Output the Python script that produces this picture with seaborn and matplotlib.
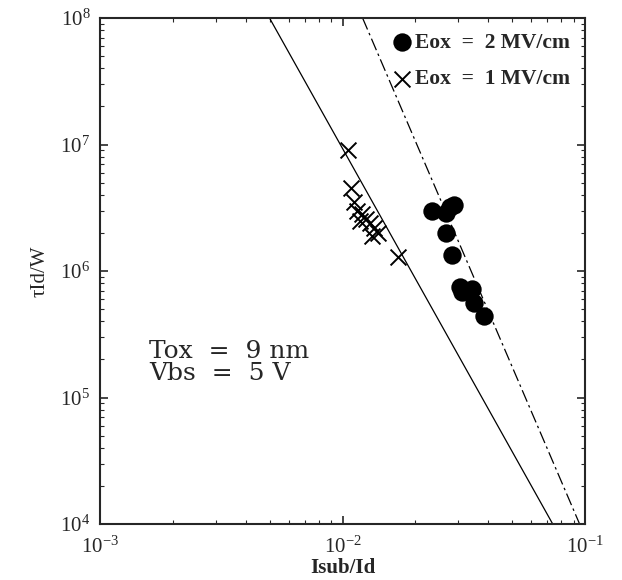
import numpy as np
import pandas as pd
import matplotlib
matplotlib.use("Agg")
import matplotlib.pyplot as plt
import seaborn as sns

# Data (log-log plot)
x_eox1 = [0.0105, 0.0108, 0.0112, 0.0115, 0.0120, 0.0125, 0.0118, 0.0130, 0.0135, 0.0140, 0.0132, 0.0170]
y_eox1 = [9.0e6, 4.5e6, 3.5e6, 3.0e6, 2.8e6, 2.6e6, 2.5e6, 2.4e6, 2.2e6, 2.0e6, 1.9e6, 1.3e6]

x_eox2 = [0.0235, 0.0268, 0.0278, 0.0288, 0.0268, 0.0282, 0.0306, 0.0342, 0.0312, 0.0348, 0.0385]
y_eox2 = [3.0e6, 2.9e6, 3.2e6, 3.3e6, 2.0e6, 1.35e6, 7.5e5, 7.2e5, 6.8e5, 5.6e5, 4.4e5]

# fitted lines (endpoints)
line1_x = [0.0050, 0.0736]
line1_y = [1e8, 1e4]
line2_x = [0.0121, 0.0950]
line2_y = [1e8, 1e4]

legend_labels = ["Eox  =  2 MV/cm", "Eox  =  1 MV/cm"]
xlabel = "Isub/Id"
ylabel = "\u03c4Id/W"
note = "Tox  =  9 nm\nVbs  =  5 V"

sns.set_style("ticks")
plt.rcParams['font.family'] = ['Liberation Serif', 'DejaVu Serif']
plt.rcParams['mathtext.fontset'] = 'stix'

fig = plt.figure(figsize=(6.22, 5.80), dpi=100)
ax = fig.add_axes([100/622, 1-524/580, (585-100)/622, (524-18)/580])

df1 = pd.DataFrame({"x": x_eox1, "y": y_eox1})
df2 = pd.DataFrame({"x": x_eox2, "y": y_eox2})
dl1 = pd.DataFrame({"x": line1_x, "y": line1_y})
dl2 = pd.DataFrame({"x": line2_x, "y": line2_y})

sns.lineplot(data=dl1, x="x", y="y", ax=ax, color="black", lw=0.9, estimator=None, sort=False)
sns.lineplot(data=dl2, x="x", y="y", ax=ax, color="black", lw=0.9, estimator=None, sort=False)
ax.lines[1].set_dashes([10, 3, 2, 3])

sns.scatterplot(data=df2, x="x", y="y", ax=ax, marker="o", s=175, color="black",
                edgecolor="black", linewidth=0, label=legend_labels[0], zorder=3)
sns.scatterplot(data=df1, x="x", y="y", ax=ax, marker="x", s=130, color="black",
                linewidth=1.4, label=legend_labels[1], zorder=3)

ax.set_xscale("log")
ax.set_yscale("log")
ax.set_xlim(1e-3, 1e-1)
ax.set_ylim(1e4, 1e8)

ax.tick_params(which="both", direction="in", top=True, right=True, labelsize=15)
ax.tick_params(which="major", length=6, width=1.2)
ax.tick_params(which="minor", length=3, width=0.8)
ax.tick_params(axis="x", pad=9)
ax.tick_params(axis="y", pad=7)
for sp in ax.spines.values():
    sp.set_linewidth(1.5)

ax.set_xlabel(xlabel, fontsize=15, fontweight="bold", labelpad=0)
ax.set_ylabel(ylabel, fontsize=15, labelpad=8)

ax.text(1.6e-3, 1.9e5, note, fontsize=18, linespacing=0.95, va="center", ha="left",
        family=["DejaVu Serif"])

leg = ax.legend(loc="upper right", frameon=False, fontsize=15.5, handletextpad=0.2,
                markerscale=1.0, borderaxespad=0.3, labelspacing=0.75, handlelength=0.8)
for t in leg.get_texts():
    t.set_fontweight("bold")

fig.savefig("out.png", dpi=100, facecolor="white")
